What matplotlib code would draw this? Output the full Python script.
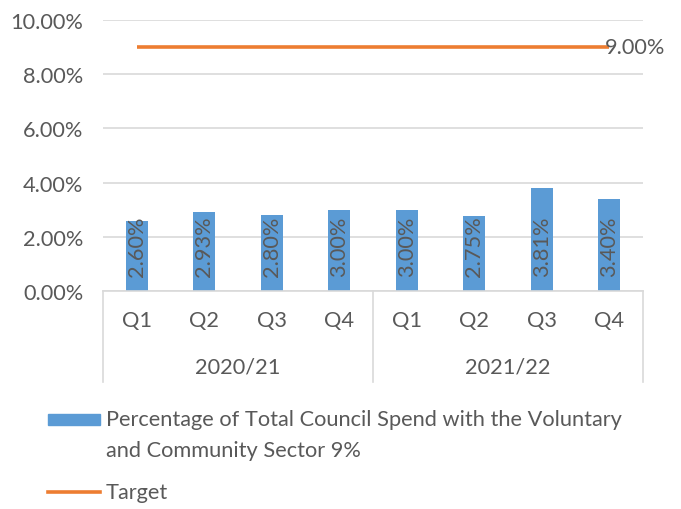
import matplotlib
matplotlib.use("Agg")
import matplotlib.pyplot as plt
from matplotlib.patches import Rectangle
from matplotlib.lines import Line2D
from matplotlib.ticker import FuncFormatter
import matplotlib.transforms as mtransforms

# quarterly spend with the voluntary & community sector (%)
years = ["2020/21", "2021/22"]
quarters = ["Q1", "Q2", "Q3", "Q4"]
spend = [2.60, 2.93, 2.80, 3.00, 3.00, 2.75, 3.81, 3.40]
target = [9.00] * 8

bar_label = "Percentage of Total Council Spend with the Voluntary\nand Community Sector 9%"
line_label = "Target"

BLUE = "#5B9BD5"
ORANGE = "#ED7D31"
TXT = "#595959"
GRID = "#D9D9D9"

plt.rcParams["font.family"] = ["Lato", "DejaVu Sans"]
FS = 15.7

W, H = 681, 510
fig = plt.figure(figsize=(W / 100, H / 100), dpi=100)

def fx(px):
    return px / W

def fy(py):
    return 1 - py / H

ax = fig.add_axes([fx(103), fy(292), fx(643) - fx(103), fy(21) - fy(292)])

x = list(range(len(spend)))
ax.bar(x, spend, width=0.33, color=BLUE, zorder=2)
ax.plot(x, target, color=ORANGE, lw=2.6, zorder=3, solid_capstyle="butt")

# value labels near the foot of each bar, rotated
for xi, v in zip(x, spend):
    ax.annotate(f"{v:.2f}%", (xi, 0), xytext=(0, 11), textcoords="offset points",
                rotation=90, ha="center", va="bottom", fontsize=FS, color=TXT, zorder=4)
ax.annotate(f"{target[-1]:.2f}%", (x[-1], target[-1]), xytext=(-3, 0),
            textcoords="offset points", ha="left", va="center",
            fontsize=FS, color=TXT, zorder=4)

ax.set_xlim(-0.5, len(spend) - 0.5)
ax.set_ylim(0, 10)
ax.set_yticks([0, 2, 4, 6, 8, 10])
ax.yaxis.set_major_formatter(FuncFormatter(lambda v, p: f"{v:.2f}%"))
ax.grid(axis="y", color=GRID, lw=1.2, zorder=0)
ax.set_axisbelow(True)

for s in ["top", "left", "right"]:
    ax.spines[s].set_visible(False)
ax.spines["bottom"].set_color(GRID)
ax.spines["bottom"].set_linewidth(1.2)

ax.set_xticks(x)
ax.set_xticklabels(quarters * len(years))
ax.tick_params(axis="x", length=0, pad=14, labelsize=FS, labelcolor=TXT)
ax.tick_params(axis="y", length=0, pad=14, labelsize=FS, labelcolor=TXT)

# second level of the category axis: year groups with dividers
trans = mtransforms.blended_transform_factory(ax.transData, ax.transAxes)
axis_h = 292 - 21
depth = 91 / axis_h
for b in [-0.5, 3.5, 7.5]:
    ax.add_line(Line2D([b, b], [0, -depth], transform=trans, color=GRID,
                       lw=1.2, clip_on=False))
for i, yr in enumerate(years):
    ax.text(i * 4 + 1.5, -76 / axis_h, yr, transform=trans, ha="center",
            va="center", fontsize=FS, color=TXT)

# legend
fig.add_artist(Rectangle((fx(48), fy(426)), fx(100) - fx(48), fy(415) - fy(426),
                         transform=fig.transFigure, color=BLUE))
fig.text(fx(106), fy(410), bar_label, ha="left", va="top", fontsize=FS,
         color=TXT, linespacing=1.7, transform=fig.transFigure)
fig.add_artist(Line2D([fx(48), fx(100)], [fy(493), fy(493)],
                      transform=fig.transFigure, color=ORANGE, lw=2.6))
fig.text(fx(106), fy(493), line_label, ha="left", va="center", fontsize=FS,
         color=TXT)

fig.savefig("out.png", dpi=100)
